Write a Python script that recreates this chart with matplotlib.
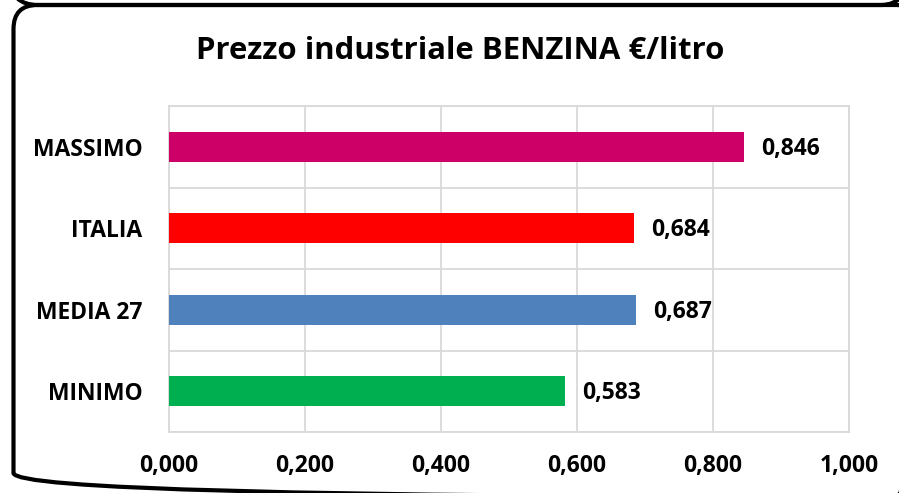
import matplotlib
matplotlib.use("Agg")
from matplotlib import pyplot as plt
from matplotlib.patches import FancyBboxPatch
import numpy as np

plt.rcParams['font.family'] = ['Open Sans', 'DejaVu Sans']

categorie = ['MINIMO', 'MEDIA 27', 'ITALIA', 'MASSIMO']
valori = [0.583, 0.687, 0.684, 0.846]
colori = ['#00B050', '#4F81BD', '#FF0000', '#CC0066']
tick_x = [0.0, 0.2, 0.4, 0.6, 0.8, 1.0]

W, H = 899, 493
fig = plt.figure(figsize=(W / 100, H / 100), dpi=100)

# area del grafico (in pixel)
x0, x1, y0, y1 = 169, 849, 106, 432
ax = fig.add_axes([x0 / W, 1 - y1 / H, (x1 - x0) / W, (y1 - y0) / H])

y = np.arange(len(categorie))
ax.barh(y, valori, height=0.37, color=colori, zorder=3)

for yi, v in zip(y, valori):
    ax.annotate(f'{v:.3f}'.replace('.', ','), xy=(v, yi), xytext=(17, -2),
                textcoords='offset pixels', va='center', ha='left',
                fontsize=16.5, fontweight='bold')

ax.set_xlim(0, 1.0)
ax.set_ylim(-0.5, len(categorie) - 0.5)
ax.set_xticks(tick_x)
ax.set_xticklabels([f'{t:.3f}'.replace('.', ',') for t in tick_x],
                   fontsize=16.5, fontweight='bold')
ax.set_yticks(y)
ax.set_yticklabels(categorie, fontsize=16.5, fontweight='bold')
ax.set_yticks(np.arange(-0.5, len(categorie)), minor=True)
ax.tick_params(axis='both', which='both', length=0)
ax.tick_params(axis='x', pad=16)
ax.tick_params(axis='y', pad=19)
ax.grid(True, axis='x', color='#D9D9D9', lw=1.3, zorder=0)
ax.grid(True, axis='y', which='minor', color='#D9D9D9', lw=1.3, zorder=0)
for s in ax.spines.values():
    s.set_color('#D9D9D9')
    s.set_linewidth(1.3)

fig.text(460 / W, 1 - 51 / H, 'Prezzo industriale BENZINA €/litro',
         ha='center', va='center', fontsize=22.4, fontweight='bold')

# cornice arrotondata
frame = fig.add_axes([0, 0, 1, 1], facecolor='none')
frame.set_xlim(0, W)
frame.set_ylim(H, 0)
frame.axis('off')
frame.add_patch(FancyBboxPatch((13.5, 5), 920 - 13.5, 497 - 5,
                               boxstyle='round,pad=0,rounding_size=24',
                               fc='none', ec='black', lw=3))
frame.add_patch(FancyBboxPatch((10, -60), 909 - 10, 65,
                               boxstyle='round,pad=0,rounding_size=28',
                               fc='none', ec='black', lw=3))

fig.savefig('out.png', dpi=100)
